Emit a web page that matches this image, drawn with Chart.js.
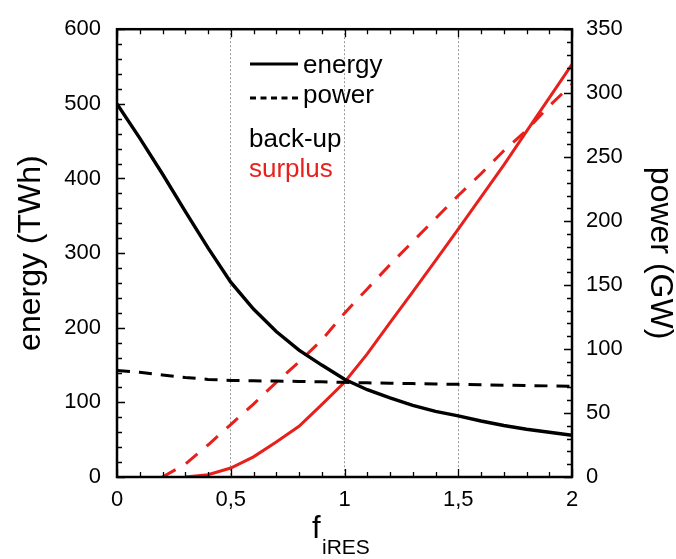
<!DOCTYPE html>
<html>
<head>
<meta charset="utf-8">
<script src="https://cdn.jsdelivr.net/npm/chart.js@4.4.1/dist/chart.umd.min.js"></script>
<style>
  html, body { margin: 0; padding: 0; background: #fff; }
  #chart { display: block; }
</style>
</head>
<body>
<canvas id="chart" width="676" height="559"></canvas>
<script>
// f_iRES (x axis)
let fValues = [0, 0.1, 0.2, 0.3, 0.4, 0.5, 0.6, 0.7, 0.8, 0.9, 1.0,
               1.1, 1.2, 1.3, 1.4, 1.5, 1.6, 1.7, 1.8, 1.9, 2.0];
// back-up, energy in TWh (left axis)
let backupEnergy = [500, 454, 406, 356, 307, 261, 225, 195, 170, 150, 131,
                    117, 106, 96, 88, 82, 75, 69, 64, 60, 56];
// back-up, power in GW (right axis)
let backupPower = [83.3, 81.8, 79.8, 77.8, 76.3, 75.5, 75.2, 75, 74.7, 74.4, 74,
                   73.6, 73.3, 73, 72.7, 72.4, 72.1, 71.8, 71.5, 71.2, 71];
// surplus, energy in TWh (left axis)
let surplusEnergy = [null, null, null, 0, 3, 12, 27, 47, 68, 97, 127,
                     165, 207, 248, 290, 332, 375, 418, 463, 508, 553];
// surplus, power in GW (right axis)
let surplusPower = [null, null, 0, 10, 25, 41, 57, 74, 90, 107, 128,
                    147, 166, 184, 202, 220, 237, 255, 271, 290, 307];

let xTicks = [0, 0.5, 1, 1.5, 2];
let energyTicks = [0, 100, 200, 300, 400, 500, 600];
let powerTicks = [0, 50, 100, 150, 200, 250, 300, 350];

const RED = "#e8201c";
const FONT = "'Liberation Sans', Arial, sans-serif";

function points(arr) {
    return fValues.map((x, i) => ({ x: x, y: arr[i] }));
}

// frame, inward ticks, legend text and the x title
const decorations = {
    id: "decorations",
    afterDraw(chart) {
        const { ctx, chartArea: a, scales } = chart;
        ctx.save();
        ctx.strokeStyle = "#000";
        ctx.lineWidth = 1.3;
        ctx.beginPath();
        for (let i = 0; i <= 20; i++) {
            const px = Math.round(scales.x.getPixelForValue(i / 10)) + 0.5;
            const len = i % 5 === 0 ? 8 : 5;
            ctx.moveTo(px, a.bottom); ctx.lineTo(px, a.bottom - len);
            ctx.moveTo(px, a.top); ctx.lineTo(px, a.top + len);
        }
        for (let i = 0; i <= 30; i++) {
            const py = Math.round(scales.y.getPixelForValue(i * 20)) + 0.5;
            const len = i % 5 === 0 ? 8 : 5;
            ctx.moveTo(a.left, py); ctx.lineTo(a.left + len, py);
        }
        for (let i = 0; i <= 35; i++) {
            const py = Math.round(scales.y1.getPixelForValue(i * 10)) + 0.5;
            const len = i % 5 === 0 ? 8 : 5;
            ctx.moveTo(a.right, py); ctx.lineTo(a.right - len, py);
        }
        ctx.stroke();

        ctx.lineWidth = 2.5;
        ctx.strokeRect(a.left, a.top, a.right - a.left, a.bottom - a.top);

        // legend
        ctx.lineWidth = 3;
        ctx.beginPath();
        ctx.moveTo(250, 64); ctx.lineTo(298, 64);
        ctx.stroke();
        ctx.setLineDash([6, 4.5]);
        ctx.beginPath();
        ctx.moveTo(250, 98); ctx.lineTo(298, 98);
        ctx.stroke();
        ctx.setLineDash([]);

        ctx.font = "26px " + FONT;
        ctx.textBaseline = "alphabetic";
        ctx.textAlign = "left";
        ctx.fillStyle = "#000";
        ctx.fillText("energy", 303, 73);
        ctx.fillText("power", 303, 103);
        ctx.fillText("back-up", 249, 147);
        ctx.fillStyle = RED;
        ctx.fillText("surplus", 249, 177);

        // x title: f with subscript iRES
        ctx.fillStyle = "#000";
        ctx.font = "31px " + FONT;
        ctx.fillText("f", 312, 538);
        ctx.font = "21px " + FONT;
        ctx.fillText("iRES", 322, 554);
        ctx.restore();
    }
};

new Chart("chart", {
    type: "line",
    data: {
        datasets: [
            { label: "back-up energy", data: points(backupEnergy), yAxisID: "y",
              borderColor: "#000", borderWidth: 3.4 },
            { label: "back-up power", data: points(backupPower), yAxisID: "y1",
              borderColor: "#000", borderWidth: 3, borderDash: [13, 9] },
            { label: "surplus energy", data: points(surplusEnergy), yAxisID: "y",
              borderColor: RED, borderWidth: 3 },
            { label: "surplus power", data: points(surplusPower), yAxisID: "y1",
              borderColor: RED, borderWidth: 3, borderDash: [15, 12] }
        ]
    },
    options: {
        responsive: false,
        devicePixelRatio: 1,
        animation: false,
        layout: { padding: { top: 22, left: 0, right: 0, bottom: 0 } },
        elements: {
            point: { radius: 0 },
            line: { tension: 0, fill: false, borderCapStyle: "butt" }
        },
        plugins: {
            legend: { display: false },
            tooltip: { enabled: false }
        },
        scales: {
            x: {
                type: "linear",
                min: 0,
                max: 2,
                afterBuildTicks: s => { s.ticks = xTicks.map(v => ({ value: v })); },
                afterFit: s => { s.height = 82; },
                ticks: {
                    padding: 10,
                    color: "#000",
                    font: { family: FONT, size: 22 },
                    callback: v => String(v).replace(".", ",")
                },
                grid: {
                    drawTicks: false,
                    lineWidth: 1,
                    color: c => (c.tick && (c.tick.value === 0 || c.tick.value === 2)) ? "rgba(0,0,0,0)" : "#9a9a9a"
                },
                border: { display: false, dash: [2, 2] }
            },
            y: {
                position: "left",
                min: 0,
                max: 600,
                afterBuildTicks: s => { s.ticks = energyTicks.map(v => ({ value: v })); },
                afterFit: s => { s.width = 117; },
                ticks: {
                    padding: 16,
                    color: "#000",
                    font: { family: FONT, size: 22 }
                },
                grid: { display: false, drawTicks: false },
                border: { display: false },
                title: {
                    display: true,
                    text: "energy (TWh)",
                    color: "#000",
                    font: { family: FONT, size: 32, lineHeight: 1 },
                    padding: { top: 15, bottom: 0 }
                }
            },
            y1: {
                position: "right",
                min: 0,
                max: 350,
                afterBuildTicks: s => { s.ticks = powerTicks.map(v => ({ value: v })); },
                afterFit: s => { s.width = 104; },
                ticks: {
                    padding: 14,
                    color: "#000",
                    font: { family: FONT, size: 22 }
                },
                grid: { display: false, drawTicks: false },
                border: { display: false },
                title: {
                    display: true,
                    text: "power (GW)",
                    color: "#000",
                    font: { family: FONT, size: 32, lineHeight: 1 },
                    padding: { top: 0, bottom: 0 }
                }
            }
        }
    },
    plugins: [decorations]
});
</script>
</body>
</html>
